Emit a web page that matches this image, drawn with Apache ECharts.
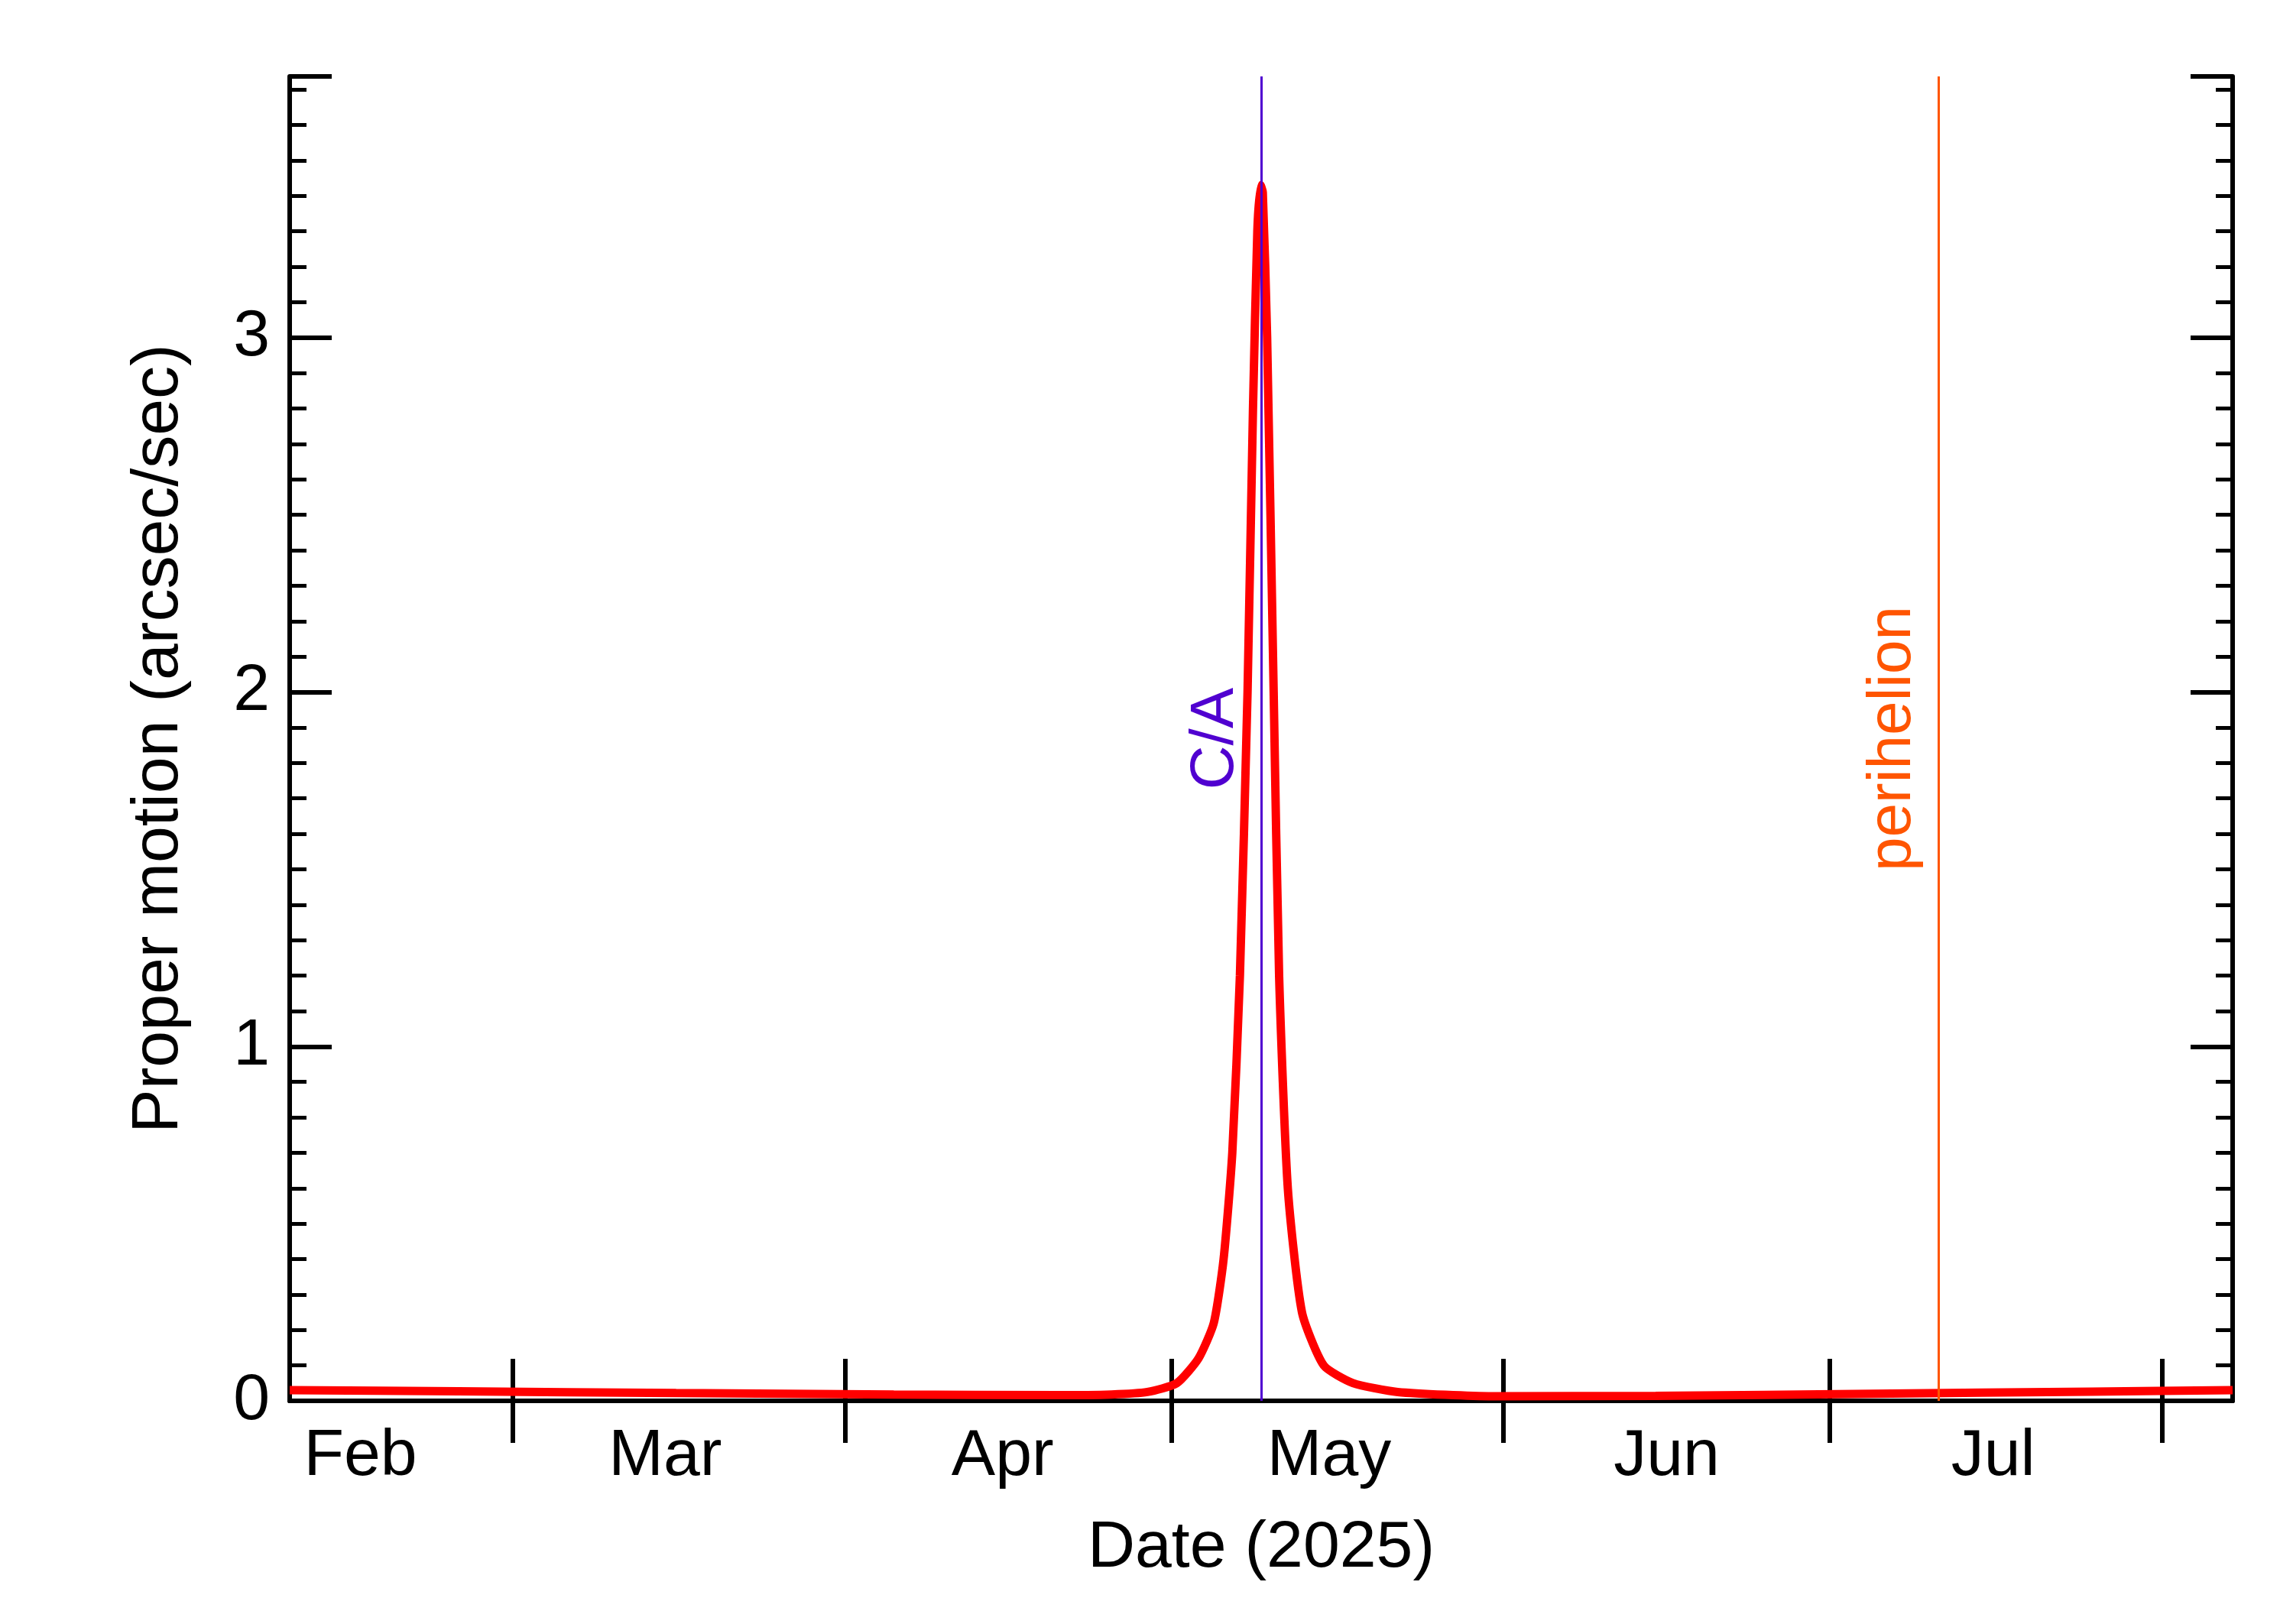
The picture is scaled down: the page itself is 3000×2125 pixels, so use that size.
<!DOCTYPE html>
<html><head><meta charset="utf-8">
<script src="https://cdn.jsdelivr.net/npm/echarts@6/dist/echarts.min.js"></script>
<style>html,body{margin:0;padding:0;background:#fff}#c{width:3000px;height:2125px}</style>
</head><body><div id="c"></div>
<script>
// day of year 2025
const days = [24.5,40,60,80,95,100,103.3,106,108,109.4,110.3,111.1,111.8,112.5,113,113.4,113.7,113.9,114.3,114.9,115.4,116.2,117.5,119.5,122.2,126.3,135,150,170,190,203];
const motion = [0.03,0.027,0.022,0.018,0.016,0.018,0.025,0.05,0.12,0.22,0.4,0.7,1.2,2.0,2.8,3.3,3.43,3.41,3.0,2.0,1.2,0.6,0.25,0.1,0.05,0.025,0.013,0.014,0.02,0.026,0.03];
const monthDays = [31,59,90,120,151,181];
const monthNames = ['Feb','Mar','Apr','May','Jun','Jul'];
const tickDays = [45,75.5,105.5,136,166,196.5];
const caDay = 113.8, periDay = 176;
const F = 'Liberation Sans, Arial, sans-serif';
const data = days.map((d,i)=>[d,motion[i]]);
function ax(pos){ return {type:'value',min:24.5,max:203,position:pos,
  axisLine:{lineStyle:{color:'#000',width:6}},
  axisTick:{inside:false,length:-55,lineStyle:{color:'#000',width:6},customValues:tickDays},
  splitLine:{show:false}}; }
function ay(pos){ return {type:'value',min:0,max:3.737,interval:1,position:pos,
  axisLine:{show:true,lineStyle:{color:'#000',width:6}},
  axisTick:{inside:true,length:55,lineStyle:{color:'#000',width:6}},
  minorTick:{show:true,splitNumber:10,length:22,lineStyle:{color:'#000',width:5}},
  splitLine:{show:false}}; }
const xb = ax('bottom');
Object.assign(xb,{name:'Date (2025)',nameLocation:'middle',nameGap:150,
  nameTextStyle:{fontFamily:F,fontSize:86,color:'#000'},
  axisLabel:{customValues:monthDays,fontFamily:F,fontSize:86,color:'#000',margin:30,
    formatter:v=>monthNames[monthDays.indexOf(v)]}});
const xt = ax('top'); xt.axisLabel={show:false};
const yl = ay('left');
Object.assign(yl,{name:'Proper motion (arcsec/sec)',nameLocation:'middle',nameGap:128,nameMoveOverlap:false,
  nameTextStyle:{fontFamily:F,fontSize:86,color:'#000'},
  axisLabel:{fontFamily:F,fontSize:86,color:'#000',margin:26,showMaxLabel:false}});
const yr = ay('right'); yr.axisLabel={show:false};
const chart = echarts.init(document.getElementById('c'));
chart.setOption({
  animation:false,
  grid:{left:379,right:79,top:100,bottom:292},
  xAxis:[xb,xt],
  yAxis:[yl,yr],
  series:[{type:'line',data:data,showSymbol:false,smooth:0.2,lineStyle:{color:'#ff0000',width:11},
    markLine:{symbol:'none',silent:true,data:[
      {xAxis:caDay,lineStyle:{color:'#5000d0',width:3,type:'solid'},
        label:{formatter:'C/A',position:'middle',distance:[0,20],fontFamily:F,fontSize:80,color:'#5000d0'}},
      {xAxis:periDay,lineStyle:{color:'#ff5500',width:3,type:'solid'},
        label:{formatter:'perihelion',position:'middle',distance:[0,20],fontFamily:F,fontSize:80,color:'#ff5500'}}
    ]}}]
});
</script></body></html>
